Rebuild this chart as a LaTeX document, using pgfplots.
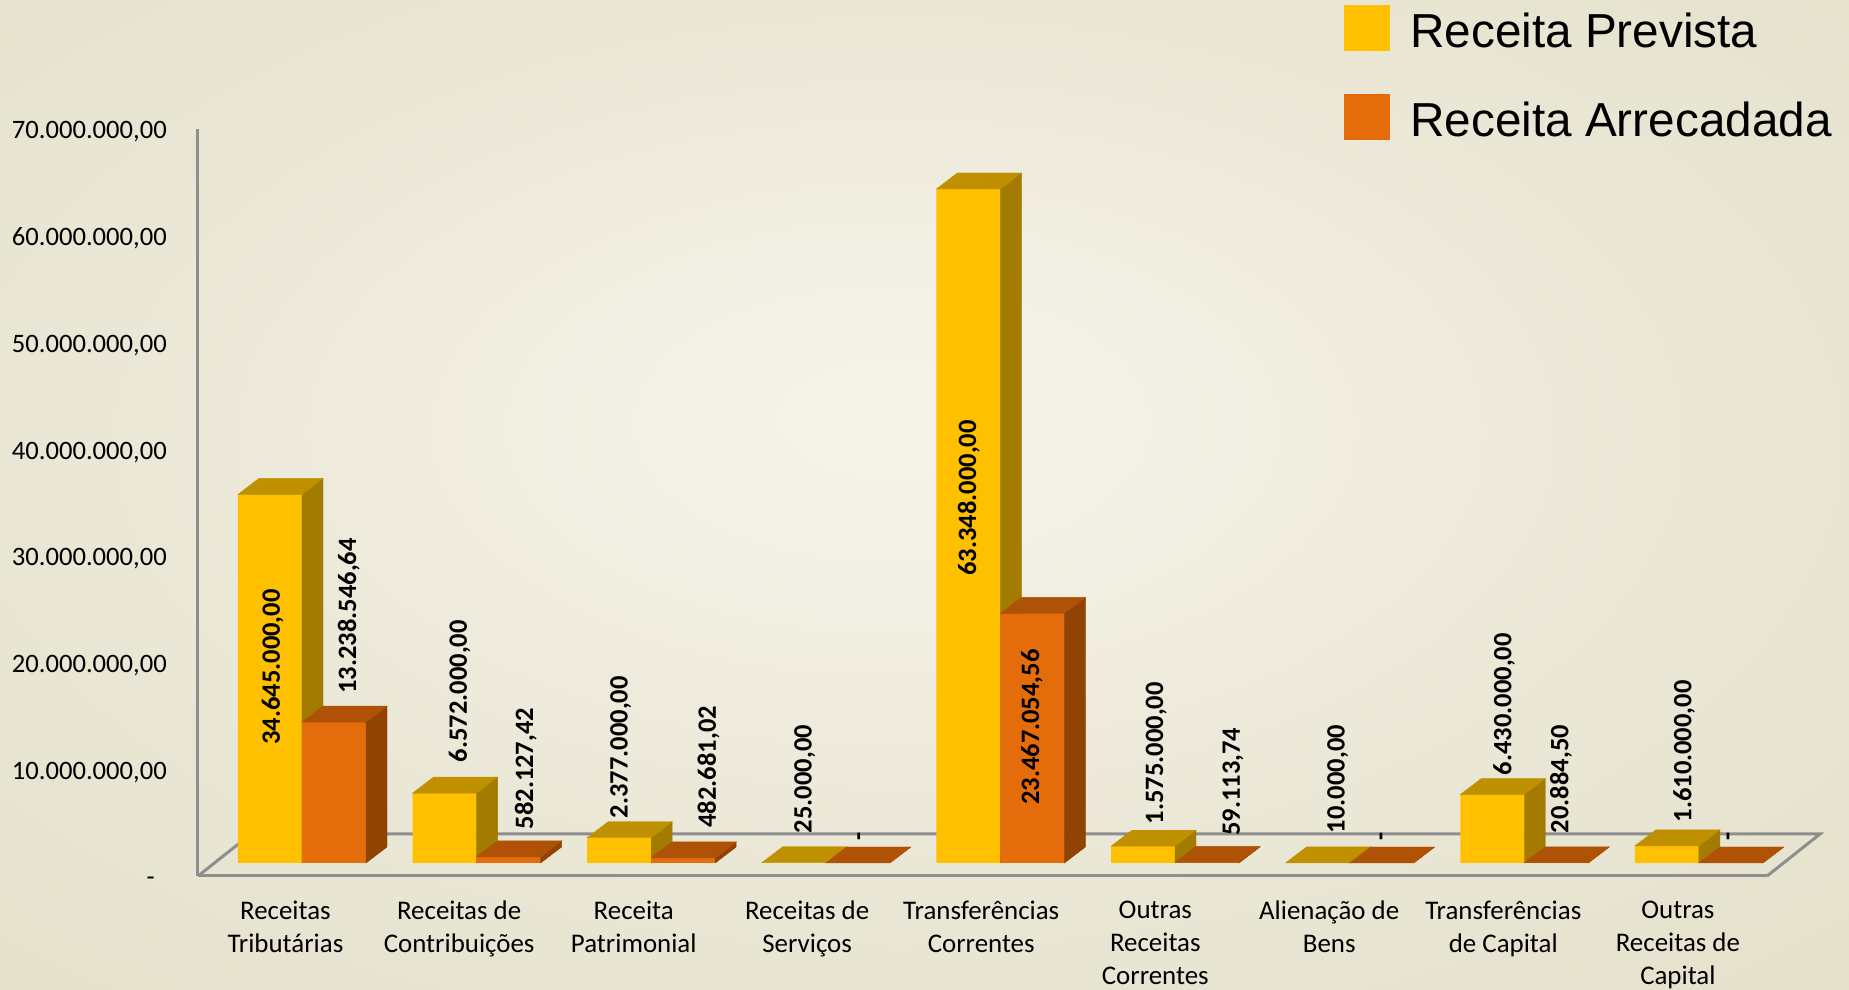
\documentclass[border=0pt]{standalone}
\usepackage{fontspec}
\setmainfont{Carlito}
\newfontfamily\legendfont{Liberation Sans}
\usepackage{pgfplots}
\usepackage{pgfplotstable}
\pgfplotsset{compat=1.18}

\definecolor{prev}{HTML}{FFC000}
\definecolor{prevtop}{HTML}{BF9000}
\definecolor{prevside}{HTML}{A37B00}
\definecolor{arre}{HTML}{E46C0A}
\definecolor{arretop}{HTML}{AF5206}
\definecolor{arreside}{HTML}{914304}
\definecolor{eixo}{HTML}{8E8E8E}
\definecolor{fundoA}{HTML}{F6F3EA}
\definecolor{fundoB}{HTML}{F1EEE2}
\definecolor{fundoC}{HTML}{EAE7D6}
\definecolor{fundoD}{HTML}{E4E0CB}
\definecolor{fundoE}{HTML}{DDD7BE}

\pgfdeclareradialshading{fundo}{\pgfpoint{-1bp}{4bp}}{%
  color(0bp)=(fundoA);
  color(10bp)=(fundoB);
  color(22bp)=(fundoC);
  color(38bp)=(fundoD);
  color(60bp)=(fundoE);
  color(75bp)=(fundoE)}

% bars: group, prevista, arrecadada
\pgfplotstableread{
g prevista arrecadada
0 34645000 13238546.64
1 6572000 582127.42
2 2377000 482681.02
3 25000 0
4 63348000 23467054.56
5 1575000 59113.74
6 10000 0
7 6430000 20884.50
8 1610000 0
}\receitas

% data labels: x and y of the foot of each rotated label
\pgfplotstableread{
x y lab
-0.168 11100000 34.645.000,00
0.268 15900000 13.238.546,64
0.903 9460000 6.572.000,00
1.281 3150000 582.127,42
1.826 4200000 2.377.000,00
2.328 3320000 482.681,02
2.879 2800000 25.000,00
3.206 2070000 -
3.818 27000000 63.348.000,00
4.180 5450000 23.467.054,56
4.892 3630000 1.575.000,00
5.332 2540000 59.113,74
5.932 2800000 10.000,00
6.197 2070000 -
6.885 8240000 6.430.000,00
7.211 2800000 20.884,50
7.916 3800000 1.610.000,00
8.185 2070000 -
}\rotulos

\pgfdeclareplotmark{vazio}{}

% top and side face of a bar, drawn at the data point
% #1 left edge, #2 right edge, #3 top colour, #4 side colour
\pgfplotsset{
  caixa/.style n args={4}{
    scatter, only marks, mark=vazio, forget plot,
    point meta=y, point meta min=0, point meta max=70000000,
    scatter/@pre marker code/.code={},
    scatter/@post marker code/.code={%
      \pgfmathsetlengthmacro\h{\pgfplotspointmetatransformed*0.7448}%
      \fill[#4] (#2pt,0pt) -- (#2pt+21pt,16pt) -- (#2pt+21pt,16pt-\h) -- (#2pt,-\h) -- cycle;
      \fill[#3] (#1pt,0pt) -- (#2pt,0pt) -- (#2pt+21pt,16pt) -- (#1pt+21pt,16pt) -- cycle;
    },
  },
  quadro/.style={
    at={(198pt,114pt)}, anchor=south west,
    width=1569pt, height=747pt, scale only axis,
    xmin=-0.5956, xmax=8.3906,
    clip=false,
  },
  barras/.style={
    quadro, hide axis,
    ymin=-1221800, ymax=68985000,
  },
}

\begin{document}
\begin{tikzpicture}
  \shade[shading=fundo] (0pt,0pt) rectangle (1849pt,990pt);

  % axes, floor and tick labels
  \begin{axis}[
    quadro,
    ymin=0, ymax=70000000,
    axis x line=bottom, axis y line=left,
    axis line style={-, draw=eixo, line width=3pt},
    major tick length=0pt,
    ytick={0,10000000,20000000,30000000,40000000,50000000,60000000,70000000},
    yticklabels={{\smash{-}\vphantom{0,}\kern12pt},{10.000.000,00},{20.000.000,00},{30.000.000,00},{40.000.000,00},{50.000.000,00},{60.000.000,00},{70.000.000,00}},
    scaled y ticks=false,
    yticklabel style={anchor=east, inner sep=0pt, xshift=-31pt, yshift=-3pt, font=\fontsize{26.6}{31}\selectfont},
    xtick={-0.095,0.9,1.9,2.893,3.89,4.887,5.883,6.88,7.88},
    xticklabels={{Receitas\\Tributárias},{Receitas de\\Contribuições},{Receita\\Patrimonial},{Receitas de\\Serviços},{Transferências\\Correntes},{Outras\\Receitas\\Correntes},{Alienação de\\Bens},{Transferências\\de Capital},{Outras\\Receitas de\\Capital}},
    xticklabel style={align=center, anchor=north, inner sep=0pt, yshift=-24.5pt, font=\fontsize{26.9}{33}\selectfont},
  ]
    \addplot[draw=eixo, line width=3pt, forget plot] coordinates {
      (-0.5956,0) (-0.2921,3936000) (8.6941,3936000) (8.3906,0)
    };
  \end{axis}

  % yellow bars, below the orange ones
  \begin{axis}[barras]
    \addplot[caixa={-64}{0}{prevtop}{prevside}] table[x=g, y=prevista] {\receitas};
    \addplot[ybar, bar width=64pt, bar shift=-32pt, fill=prev, draw=none, forget plot] table[x=g, y=prevista] {\receitas};
  \end{axis}

  % orange bars, labels and legend
  \begin{axis}[
    barras,
    legend style={
      draw=none, fill=none, inner sep=0pt, anchor=north west, at={(0.7304,1.166)},
      row sep=42.5pt, font=\legendfont\fontsize{47.7}{47.7}\selectfont,
      nodes={inner sep=0pt},
    },
    legend cell align=left,
    legend image code/.code={\fill[#1,draw=none] (0pt,-20pt) rectangle (46pt,26pt);},
  ]
    \addlegendimage{fill=prev}
    \addlegendentry{\hspace{20pt}Receita Prevista}
    \addplot[caixa={0}{64}{arretop}{arreside}] table[x=g, y=arrecadada] {\receitas};
    \addplot[ybar, bar width=64pt, bar shift=32pt, fill=arre, draw=none] table[x=g, y=arrecadada] {\receitas};
    \addlegendentry{\hspace{20pt}Receita Arrecadada}
    \addplot[only marks, mark=none, forget plot, point meta=explicit symbolic,
      nodes near coords,
      nodes near coords style={rotate=90, anchor=west, inner sep=0pt, font=\bfseries\fontsize{26.5}{31}\selectfont}]
      table[x=x, y=y, meta=lab] {\rotulos};
  \end{axis}
\end{tikzpicture}
\end{document}
